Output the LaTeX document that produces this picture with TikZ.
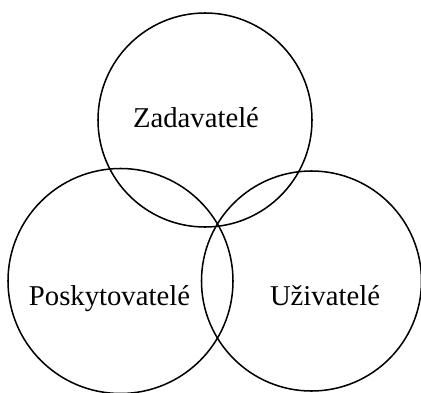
\documentclass[tikz,border=0pt]{standalone}
\usepackage{fontspec}
\setmainfont{Liberation Serif}
\begin{document}
\begin{tikzpicture}[x=0.03cm,y=-0.03cm,line width=1.3pt,
		set/.style={draw, circle, inner sep=0pt},
		lbl/.style={anchor=base, inner sep=0pt, font=\fontsize{24.5}{29}\selectfont}]
		\useasboundingbox (0,0) rectangle (421,392);
		\node (c1) [set, minimum size=6.42cm] at (205,120) {};
		\node (c2) [set, minimum size=6.75cm] at (120.5,281) {};
		\node (c3) [set, minimum size=6.6cm] at (311.5,281) {};
		\node (l1) [lbl] at (196,127) {Zadavatelé};
		\node (l2) [lbl] at (109.5,305) {Poskytovatelé};
		\node (l3) [lbl] at (325,305) {Uživatelé};
		\end{tikzpicture}
\end{document}
